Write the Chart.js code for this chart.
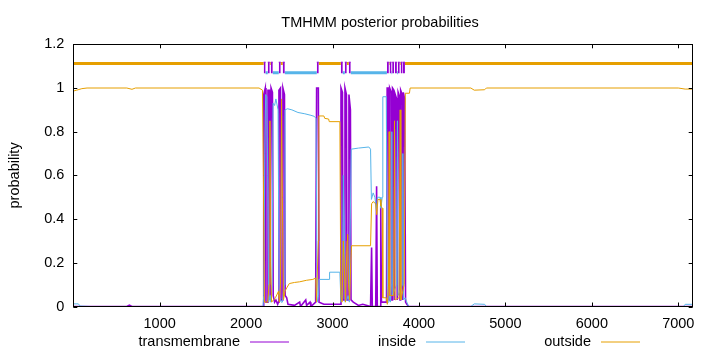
<!DOCTYPE html>
<html>
<head>
<meta charset="utf-8">
<title>TMHMM posterior probabilities</title>
<script src="https://cdn.jsdelivr.net/npm/chart.js@4"></script>
<style>
  html, body { margin: 0; padding: 0; background: #fff; }
  #wrap { width: 720px; height: 352px; }
</style>
</head>
<body>
<div id="wrap"><canvas id="chart" width="720" height="352"></canvas></div>
<script>
// --- data ---
const seqLength = 7167;
const xTicks = [1000, 2000, 3000, 4000, 5000, 6000, 7000];
const yTicks = [0, 0.2, 0.4, 0.6, 0.8, 1, 1.2];
const seriesNames = ['transmembrane', 'inside', 'outside'];

const tmPos = [1, 620, 650, 680, 2196, 2204, 2222, 2230, 2246, 2253, 2270, 2278, 2283, 2289, 2305, 2314, 2330, 2345, 2365, 2374,
  2380, 2398, 2405, 2420, 2426, 2444, 2452, 2470, 2485, 2560, 2620, 2630, 2690, 2700, 2740, 2750, 2805, 2816, 2836, 2844,
  2900, 3090, 3098, 3115, 3122, 3138, 3144, 3161, 3168, 3184, 3190, 3207, 3214, 3240, 3300, 3350, 3440, 3452, 3460, 3500,
  3510, 3518, 3550, 3558, 3566, 3625, 3632, 3648, 3655, 3658, 3664, 3680, 3687, 3689, 3694, 3710, 3716, 3720, 3726, 3742,
  3749, 3754, 3759, 3775, 3781, 3786, 3791, 3807, 3812, 3814, 3819, 3834, 3845, 3860, 3880, 7167];
const tmProb = [0, 0, 0.006, 0, 0, 0.97, 1.0, 0.02, 0.02, 0.99, 0.99, 0.03, 0.03, 1.0, 0.98, 0.05, 0.02, 0.03, 0.01, 0.02,
  0.99, 1.0, 0.03, 0.03, 1.0, 0.97, 0.05, 0.04, 0.01, 0.005, 0.02, 0, 0.03, 0.005, 0.02, 0, 0.02, 1.0, 1.0, 0.02,
  0.01, 0.01, 1.0, 0.98, 0.03, 0.03, 1.0, 0.97, 0.03, 0.03, 0.97, 0.9, 0.03, 0.02, 0.005, 0.01, 0, 0.27, 0, 0,
  0.55, 0, 0, 0.46, 0.02, 0.02, 1.0, 1.0, 0.03, 0.03, 1.0, 0.98, 0.03, 0.03, 1.0, 0.99, 0.03, 0.03, 0.97, 0.95,
  0.03, 0.03, 0.98, 0.96, 0.03, 0.03, 0.99, 0.97, 0.03, 0.03, 0.98, 0.95, 0.02, 0.01, 0, 0];

const inPos = [1, 60, 80, 200, 2195, 2204, 2218, 2226, 2240, 2250, 2262, 2278, 2288, 2300, 2312, 2330, 2345, 2370, 2382, 2405,
  2420, 2440, 2450, 2480, 2530, 2600, 2680, 2750, 2790, 2810, 2822, 2838, 2845, 2960, 2966, 3085, 3098, 3115, 3125, 3135,
  3145, 3165, 3180, 3195, 3206, 3216, 3300, 3420, 3440, 3450, 3470, 3490, 3508, 3520, 3550, 3560, 3575, 3582, 3622, 3634,
  3652, 3660, 3670, 3680, 3686, 3692, 3742, 3751, 3758, 3808, 3813, 3820, 3840, 3860, 3880, 4600, 4640, 4760, 4780, 7060,
  7080, 7167];
const inProb = [0.012, 0.012, 0.002, 0, 0, 0.05, 0.7, 0.97, 0.96, 0.6, 0.02, 0.05, 0.02, 0.1, 0.93, 0.92, 0.95, 0.9, 0.05, 0.02,
  0.02, 0.1, 0.9, 0.905, 0.9, 0.888, 0.882, 0.875, 0.87, 0.86, 0.02, 0.05, 0.124, 0.124, 0.157, 0.157, 0.02, 0.05, 0.6, 0.4,
  0.02, 0.03, 0.05, 0.02, 0.4, 0.72, 0.725, 0.73, 0.72, 0.49, 0.52, 0.5, 0.44, 0.5, 0.5, 0.45, 0.5, 0.96, 0.96, 0.02,
  0.02, 0.05, 0.02, 0.1, 0.8, 0.05, 0.1, 0.85, 0.05, 0.1, 0.7, 0.03, 0.04, 0.02, 0, 0, 0.012, 0.01, 0, 0,
  0.01, 0.01];

const outPos = [1, 40, 100, 160, 620, 680, 720, 2150, 2190, 2200, 2212, 2250, 2266, 2276, 2284, 2295, 2340, 2375, 2385, 2398,
  2410, 2420, 2432, 2450, 2470, 2500, 2560, 2620, 2700, 2772, 2806, 2814, 2836, 2842, 2900, 2910, 2955, 2962, 3085, 3096,
  3110, 3125, 3135, 3150, 3168, 3175, 3185, 3198, 3211, 3220, 3440, 3452, 3470, 3500, 3512, 3525, 3550, 3560, 3575, 3582,
  3622, 3634, 3648, 3655, 3662, 3708, 3717, 3724, 3770, 3783, 3790, 3830, 3842, 3890, 3898, 4600, 4640, 4760, 4780, 7000,
  7080, 7167];
const outProb = [0.986, 0.99, 0.997, 1.0, 1.0, 0.994, 1.0, 1.0, 0.99, 0.6, 0.02, 0.02, 0.1, 0.85, 0.2, 0.02, 0.04, 0.07, 0.02, 0.1,
  0.95, 0.5, 0.03, 0.07, 0.085, 0.105, 0.11, 0.113, 0.12, 0.124, 0.13, 0.02, 0.3, 0.872, 0.872, 0.861, 0.858, 0.846, 0.846, 0.05,
  0.02, 0.3, 0.2, 0.02, 0.3, 0.33, 0.1, 0.03, 0.2, 0.278, 0.278, 0.47, 0.48, 0.47, 0.42, 0.49, 0.49, 0.46, 0.45, 0.04,
  0.04, 0.01, 0.1, 0.8, 0.05, 0.05, 0.85, 0.03, 0.04, 0.9, 0.03, 0.1, 0.976, 0.976, 1.0, 1.0, 0.99, 0.992, 1.0, 1.0,
  0.995, 0.995];

// predicted topology (top bar)
const tmStart = [2204, 2251, 2285, 2378, 2424, 2818, 3096, 3142, 3188, 3629, 3660, 3690, 3722, 3755, 3788, 3815];
const tmEnd   = [2226, 2274, 2309, 2401, 2448, 2841, 3119, 3165, 3211, 3652, 3683, 3713, 3745, 3778, 3811, 3838];
const outsideStart = [1, 2274, 2401, 2841, 3165, 3652, 3713, 3778, 3838];
const outsideEnd   = [2204, 2285, 2424, 3096, 3188, 3660, 3722, 3788, 7167];
const insideStart  = [2226, 2309, 2448, 3119, 3211, 3683, 3745, 3811];
const insideEnd    = [2251, 2378, 2818, 3142, 3629, 3690, 3755, 3815];
const outsideLevel = 1.112;
const insideLevel = 1.07;
const tmBoxTop = 1.118;
const tmBoxBottom = 1.067;

// --- helpers ---
const COLORS = { tm: '#9400d3', inside: '#56b4e9', outside: '#e69f00' };
const FONT = '"Liberation Sans", Arial, sans-serif';

function toPoints(xs, ys) {
    return xs.map((x, i) => ({ x: x, y: ys[i] }));
}

// segments -> points with a null between them so the line breaks
function segmentPoints(starts, ends, level) {
    const pts = [];
    starts.forEach((s, i) => {
        if (i > 0) pts.push({ x: (ends[i - 1] + s) / 2, y: null });
        pts.push({ x: s, y: level });
        pts.push({ x: ends[i], y: level });
    });
    return pts;
}

// --- frame, inward ticks, legend, title ---
const framePlugin = {
    id: 'gnuplotFrame',
    afterDatasetsDraw(chart) {
        const ctx = chart.ctx;
        const a = chart.chartArea;
        const xs = chart.scales.x;
        const ys = chart.scales.y;
        const tl = 4;
        ctx.save();
        ctx.strokeStyle = '#000';
        ctx.lineWidth = 1;
        ctx.beginPath();
        xTicks.forEach(v => {
            const px = Math.round(xs.getPixelForValue(v)) + 0.5;
            ctx.moveTo(px, a.bottom); ctx.lineTo(px, a.bottom - tl);
            ctx.moveTo(px, a.top); ctx.lineTo(px, a.top + tl);
        });
        yTicks.forEach(v => {
            const py = Math.round(ys.getPixelForValue(v)) + 0.5;
            ctx.moveTo(a.left, py); ctx.lineTo(a.left + tl, py);
            ctx.moveTo(a.right, py); ctx.lineTo(a.right - tl, py);
        });
        ctx.stroke();
        ctx.strokeRect(Math.round(a.left) + 0.5, Math.round(a.top) + 0.5,
            Math.round(a.right - a.left), Math.round(a.bottom - a.top));
        ctx.restore();
    },
    afterDraw(chart) {
        const ctx = chart.ctx;
        const cols = [COLORS.tm, COLORS.inside, COLORS.outside];
        const lineStarts = [250, 426, 601];
        const y = 341.5;
        ctx.save();
        ctx.font = '14.5px ' + FONT;
        ctx.fillStyle = '#000';
        ctx.textAlign = 'right';
        ctx.textBaseline = 'middle';
        seriesNames.forEach((name, i) => {
            ctx.fillText(name, lineStarts[i] - 10, y);
            ctx.strokeStyle = cols[i];
            ctx.lineWidth = 1;
            ctx.beginPath();
            ctx.moveTo(lineStarts[i], y + 0.5);
            ctx.lineTo(lineStarts[i] + 39, y + 0.5);
            ctx.stroke();
        });
        ctx.textAlign = 'center';
        ctx.fillText('TMHMM posterior probabilities', 380, 22.5);
        ctx.restore();
    }
};

const lineDefaults = { pointRadius: 0, tension: 0, fill: false, spanGaps: false };

const chart = new Chart(document.getElementById('chart'), {
    type: 'line',
    data: {
        datasets: [
            Object.assign({ label: 'tm boxes', data: segmentPoints(tmStart, tmEnd, tmBoxTop),
                borderColor: COLORS.tm, backgroundColor: COLORS.tm, borderWidth: 1,
                order: 0 }, lineDefaults, { fill: { value: tmBoxBottom } }),
            Object.assign({ label: 'outside bar', data: segmentPoints(outsideStart, outsideEnd, outsideLevel),
                borderColor: COLORS.outside, borderWidth: 3, order: 1 }, lineDefaults),
            Object.assign({ label: 'inside bar', data: segmentPoints(insideStart, insideEnd, insideLevel),
                borderColor: COLORS.inside, borderWidth: 3, order: 2 }, lineDefaults),
            Object.assign({ label: seriesNames[2], data: toPoints(outPos, outProb),
                borderColor: COLORS.outside, borderWidth: 1, order: 3 }, lineDefaults),
            Object.assign({ label: seriesNames[1], data: toPoints(inPos, inProb),
                borderColor: COLORS.inside, borderWidth: 1, order: 4 }, lineDefaults),
            Object.assign({ label: seriesNames[0], data: toPoints(tmPos, tmProb),
                borderColor: COLORS.tm, borderWidth: 1.6, order: 5 }, lineDefaults)
        ]
    },
    options: {
        responsive: false,
        animation: false,
        events: [],
        layout: { padding: { top: 44.3, right: 27.3, left: 0, bottom: 0 } },
        plugins: { legend: { display: false }, title: { display: false }, tooltip: { enabled: false } },
        scales: {
            x: {
                type: 'linear',
                min: 1,
                max: seqLength,
                grid: { display: false },
                border: { display: false },
                afterBuildTicks: s => { s.ticks = xTicks.map(v => ({ value: v })); },
                afterFit: s => { s.height = 45.5; },
                ticks: { color: '#000', font: { family: FONT, size: 14.5 }, padding: 1,
                    maxRotation: 0, autoSkip: false, callback: v => String(v) }
            },
            y: {
                min: 0,
                max: 1.2,
                grid: { display: false, drawTicks: false },
                border: { display: false },
                afterBuildTicks: s => { s.ticks = yTicks.map(v => ({ value: v })); },
                afterFit: s => { s.width = 73.3; },
                title: { display: true, text: 'probability', color: '#000',
                    font: { family: FONT, size: 14.5 }, padding: { top: 6, bottom: 0 } },
                ticks: { color: '#000', font: { family: FONT, size: 14.5 }, padding: 9,
                    callback: v => String(+v.toFixed(1)) }
            }
        }
    },
    plugins: [framePlugin]
});
</script>
</body>
</html>
